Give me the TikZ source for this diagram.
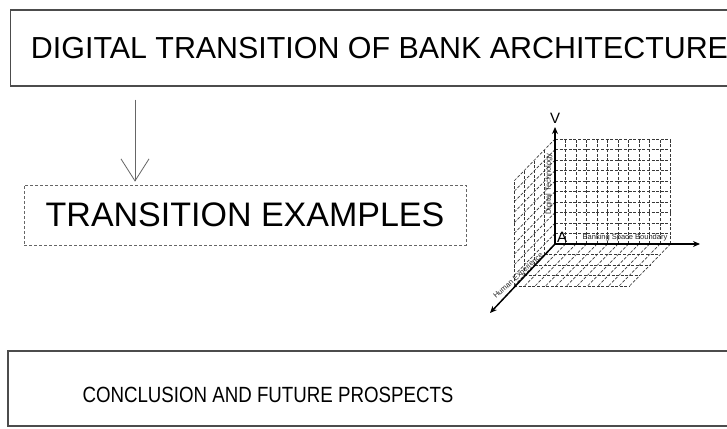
\documentclass[tikz,border=0pt]{standalone}
\usepackage{fontspec}
\setmainfont{Liberation Sans}
\usetikzlibrary{arrows.meta,calc}
\begin{document}
\begin{tikzpicture}[x=1pt,y=-1pt,
  box/.style={draw=black!70,line width=1.1pt,inner sep=0pt},
  dbox/.style={draw=black!60,line width=0.7pt,inner sep=0pt,dash pattern=on 3pt off 2pt},
  flow/.style={draw=black!60,line width=0.8pt,-{Straight Barb[length=22pt,width=28pt,line width=0.8pt]}},
  gridln/.style={draw=black!78,line width=0.65pt,dash pattern=on 3pt off 1.6pt},
  axis/.style={draw=black,line width=1.5pt,-{Stealth[length=7pt,width=6pt]}},
  tiny/.style={font=\fontsize{7.5}{8}\selectfont,inner sep=0pt,text=black!85}
]
\clip (0,0) rectangle (727,428);
\fill[white] (0,0) rectangle (727,428);

% main boxes
\node[box,minimum width=738pt,minimum height=76pt,font=\fontsize{30.4}{36}\selectfont] (top) at (379.5,48) {DIGITAL TRANSITION OF BANK ARCHITECTURE};
\node[dbox,minimum width=442pt,minimum height=60pt,font=\fontsize{34}{40}\selectfont] (trans) at (245,215) {TRANSITION EXAMPLES};
\node[box,minimum width=772pt,minimum height=75pt] (conclbox) at (394,388.5) {};
\node[inner sep=0pt,font=\fontsize{22}{26}\selectfont] (concl) at (268,395) {\scalebox{0.85}[1]{CONCLUSION AND FUTURE PROSPECTS}};

% arrow
\coordinate (ax) at (135,0);
\draw[flow,shorten <=13pt,shorten >=3pt] (top.south -| ax) -- (trans.north -| ax);

% 3D grid
\coordinate (O) at (555,244);
\foreach \i in {0,...,11} \draw[gridln] ($(O)+(\i*10.5,0)$) -- ++(0,-105);
\foreach \k in {0,...,10} \draw[gridln] ($(O)+(0,-\k*10.5)$) -- ++(115.5,0);
\foreach \k in {0,...,10} \draw[gridln] ($(O)+(0,-\k*10.5)$) -- ++(-41,42);
\foreach \j in {0,...,4} \draw[gridln] ($(O)+(-\j*10.25,\j*10.5)$) -- ++(0,-105);
\foreach \i in {0,...,11} \draw[gridln] ($(O)+(\i*10.5,0)$) -- ++(-41,42);
\foreach \j in {0,...,4} \draw[gridln] ($(O)+(-\j*10.25,\j*10.5)$) -- ++(115.5,0);

% axes
\coordinate (Vt) at (555,127);
\coordinate (Xt) at (700,244);
\coordinate (Dt) at (490,313);
\draw[axis] (O) -- (Vt);
\draw[axis] (O) -- (Xt);
\draw[axis] (O) -- (Dt);

% labels
\node[font=\fontsize{15}{15}\selectfont,inner sep=0pt] (vlab) at (555,118) {V};
\node[font=\fontsize{15}{15}\selectfont,inner sep=0pt,anchor=south west] (alab) at (557,243) {A};
\node[tiny] (xlab) at (625,238) {Banking Space Boundary};
\node[tiny,rotate=90] (ylab) at (549,184) {Digital Technology};
\node[tiny,rotate=42] (dlab) at (518.5,276) {Human Experience};
\end{tikzpicture}
\end{document}
